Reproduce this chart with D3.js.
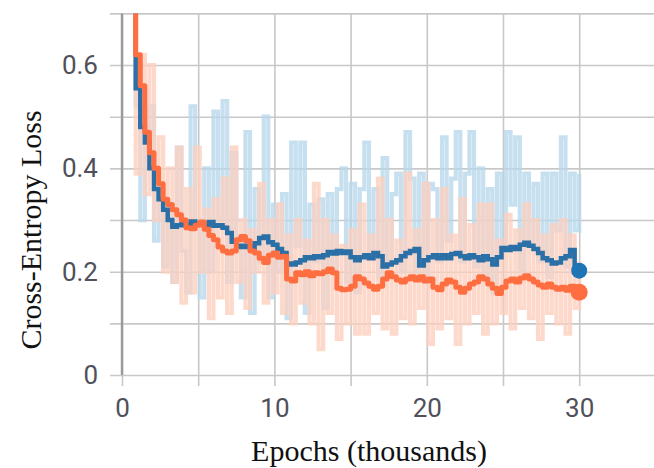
<!DOCTYPE html>
<html>
<head>
<meta charset="utf-8">
<script src="https://cdn.jsdelivr.net/npm/d3@7"></script>
<style>
  html, body { margin: 0; padding: 0; background: #fff; }
  svg { display: block; }
</style>
</head>
<body>
<svg id="chart" width="654" height="468"></svg>
<script>
// ---------------- data ----------------
const epochs = [
  0.6, 0.9, 1.2, 1.5, 1.8, 2.1, 2.4, 2.7, 3.0, 3.3,
  3.6, 3.9, 4.2, 4.5, 4.8, 5.1, 5.4, 5.7, 6.0, 6.3,
  6.6, 6.9, 7.2, 7.5, 7.8, 8.1, 8.4, 8.7, 9.0, 9.3,
  9.6, 9.9, 10.2, 10.5, 10.8, 11.1, 11.4, 11.7, 12.0, 12.3,
  12.6, 12.9, 13.2, 13.5, 13.8, 14.1, 14.4, 14.7, 15.0, 15.3,
  15.6, 15.9, 16.2, 16.5, 16.8, 17.1, 17.4, 17.7, 18.0, 18.3,
  18.6, 18.9, 19.2, 19.5, 19.8, 20.1, 20.4, 20.7, 21.0, 21.3,
  21.6, 21.9, 22.2, 22.5, 22.8, 23.1, 23.4, 23.7, 24.0, 24.3,
  24.6, 24.9, 25.2, 25.5, 25.8, 26.1, 26.4, 26.7, 27.0, 27.3,
  27.6, 27.9, 28.2, 28.5, 28.8, 29.1, 29.4, 29.7, 30.0
];

const blueRaw = [
  0.75, 0.52, 0.30, 0.44, 0.52, 0.26, 0.36, 0.21, 0.32, 0.18,
  0.44, 0.24, 0.16, 0.52, 0.30, 0.15, 0.40, 0.20, 0.51, 0.30,
  0.53, 0.18, 0.43, 0.26, 0.15, 0.47, 0.12, 0.36, 0.22, 0.50,
  0.15, 0.33, 0.20, 0.35, 0.11, 0.45, 0.25, 0.45, 0.12, 0.33,
  0.22, 0.34, 0.13, 0.35, 0.20, 0.36, 0.40, 0.18, 0.37, 0.16,
  0.36, 0.45, 0.24, 0.36, 0.19, 0.42, 0.22, 0.35, 0.39, 0.20,
  0.47, 0.38, 0.20, 0.39, 0.18, 0.37, 0.36, 0.22, 0.46, 0.26,
  0.38, 0.47, 0.22, 0.39, 0.47, 0.21, 0.40, 0.19, 0.36, 0.16,
  0.39, 0.24, 0.47, 0.33, 0.46, 0.20, 0.39, 0.25, 0.37, 0.22,
  0.39, 0.19, 0.39, 0.28, 0.46, 0.21, 0.39, 0.28, 0.39
];

const orangeRaw = [
  0.90, 0.39, 0.62, 0.35, 0.60, 0.30, 0.46, 0.20, 0.40, 0.18,
  0.44, 0.14, 0.36, 0.16, 0.44, 0.20, 0.32, 0.11, 0.34, 0.15,
  0.38, 0.12, 0.44, 0.18, 0.30, 0.13, 0.28, 0.20, 0.37, 0.14,
  0.30, 0.16, 0.33, 0.12, 0.27, 0.10, 0.30, 0.14, 0.26, 0.10,
  0.37, 0.05, 0.30, 0.12, 0.27, 0.07, 0.25, 0.10, 0.28, 0.08,
  0.33, 0.08, 0.27, 0.12, 0.38, 0.09, 0.30, 0.08, 0.26, 0.11,
  0.39, 0.10, 0.28, 0.13, 0.37, 0.06, 0.30, 0.09, 0.36, 0.11,
  0.27, 0.06, 0.34, 0.10, 0.29, 0.12, 0.33, 0.08, 0.33, 0.10,
  0.26, 0.12, 0.31, 0.09, 0.28, 0.13, 0.33, 0.11, 0.30, 0.07,
  0.27, 0.12, 0.29, 0.10, 0.30, 0.08, 0.27, 0.13, 0.22
];

const blueSmooth = [
  0.95, 0.555, 0.48, 0.45, 0.40, 0.36, 0.34, 0.32, 0.30, 0.287,
  0.29, 0.292, 0.289, 0.297, 0.291, 0.293, 0.29, 0.296, 0.289, 0.29,
  0.285, 0.275, 0.258, 0.25, 0.248, 0.25, 0.246, 0.255, 0.265, 0.268,
  0.257, 0.252, 0.244, 0.236, 0.216, 0.214, 0.218, 0.222, 0.228, 0.226,
  0.23, 0.228, 0.232, 0.238, 0.235, 0.24, 0.236, 0.239, 0.228, 0.222,
  0.228, 0.232, 0.226, 0.236, 0.23, 0.21, 0.214, 0.218, 0.222, 0.23,
  0.236, 0.24, 0.244, 0.212, 0.222, 0.228, 0.232, 0.226, 0.232, 0.226,
  0.234, 0.236, 0.23, 0.226, 0.232, 0.228, 0.222, 0.23, 0.224, 0.214,
  0.228, 0.246, 0.242, 0.248, 0.244, 0.252, 0.256, 0.25, 0.244, 0.236,
  0.226, 0.222, 0.216, 0.218, 0.226, 0.23, 0.242, 0.21, 0.202
];

const orangeSmooth = [
  1.0, 0.62, 0.56, 0.47, 0.43, 0.40, 0.37, 0.34, 0.33, 0.32,
  0.31, 0.30, 0.285, 0.283, 0.29, 0.296, 0.282, 0.27, 0.262, 0.248,
  0.24, 0.236, 0.24, 0.262, 0.268, 0.26, 0.24, 0.236, 0.226, 0.218,
  0.232, 0.236, 0.228, 0.23, 0.186, 0.182, 0.198, 0.194, 0.2, 0.192,
  0.198, 0.196, 0.2, 0.205, 0.198, 0.168, 0.165, 0.166, 0.172, 0.19,
  0.186, 0.178, 0.172, 0.166, 0.172, 0.186, 0.198, 0.19, 0.184, 0.18,
  0.186, 0.19, 0.184, 0.19, 0.182, 0.186, 0.17, 0.165, 0.176, 0.184,
  0.18, 0.17, 0.16, 0.168, 0.176, 0.18, 0.19, 0.186, 0.176, 0.168,
  0.158, 0.17, 0.182, 0.186, 0.18, 0.188, 0.192, 0.186, 0.18, 0.174,
  0.17, 0.176, 0.17, 0.166, 0.17, 0.164, 0.172, 0.166, 0.16
];

const yGridValues = [0, 0.1, 0.2, 0.3, 0.4, 0.5, 0.6, 0.7];
const yTickLabels = [0, 0.2, 0.4, 0.6];
const xGridValues = [0, 5, 10, 15, 20, 25, 30, 35];
const xTickLabels = [0, 10, 20, 30];

// ---------------- drawing ----------------
const svg = d3.select("#chart");

const x = d3.scaleLinear().domain([0, 35]).range([122, 655.4]);
const y = d3.scaleLinear().domain([0, 0.7]).range([375, 13.4]);

const gridColor = "#c8c8c8";
const labelColor = "#50505a";

// Y grid + labels
const yAxis = d3.axisLeft(y)
  .tickValues(yGridValues)
  .tickSize(-(654 - 110))
  .tickPadding(12)
  .tickFormat(d => yTickLabels.some(v => Math.abs(v - d) < 1e-9) ? d3.format("")(+d.toFixed(1)) : "");
const gy = svg.append("g").attr("transform", "translate(110,0)").call(yAxis);
gy.select(".domain").remove();
gy.selectAll(".tick line").attr("stroke", gridColor).attr("stroke-width", 1.6);
gy.selectAll(".tick text")
  .attr("font-family", "Roboto, Arial, sans-serif")
  .attr("font-size", 26)
  .attr("fill", labelColor);

// X grid + labels
const xAxis = d3.axisBottom(x)
  .tickValues(xGridValues)
  .tickSize(-(386 - 13.4))
  .tickPadding(13)
  .tickFormat(d => xTickLabels.includes(d) ? String(d) : "");
const gx = svg.append("g").attr("transform", "translate(0,386)").call(xAxis);
gx.select(".domain").remove();
gx.selectAll(".tick line").attr("stroke", gridColor).attr("stroke-width", 1.6);
gx.selectAll(".tick text")
  .attr("font-family", "Roboto, Arial, sans-serif")
  .attr("font-size", 26)
  .attr("fill", labelColor);

// y axis line (darker)
svg.append("line")
  .attr("x1", x(0)).attr("x2", x(0))
  .attr("y1", y(0.7)).attr("y2", y(0))
  .attr("stroke", "#9a9a9a").attr("stroke-width", 2.4);

// clip
svg.append("defs").append("clipPath").attr("id", "plotclip")
  .append("rect")
  .attr("x", x(0) + 1).attr("y", y(0.7))
  .attr("width", 654 - x(0)).attr("height", y(0) - y(0.7));

const plot = svg.append("g").attr("clip-path", "url(#plotclip)");

function series(vals) {
  const n = Math.min(epochs.length, vals.length);
  const out = [];
  for (let i = 0; i < n; i++) out.push([epochs[i], vals[i]]);
  return out;
}

const stepLine = d3.line().x(d => x(d[0])).y(d => y(d[1])).curve(d3.curveStepAfter);

plot.append("path").datum(series(blueRaw))
  .attr("d", stepLine).attr("fill", "none")
  .attr("stroke", "#b9d8ec").attr("stroke-opacity", 0.8)
  .attr("stroke-width", 4.2);

plot.append("path").datum(series(orangeRaw))
  .attr("d", stepLine).attr("fill", "none")
  .attr("stroke", "#fccfbf").attr("stroke-opacity", 0.8)
  .attr("stroke-width", 4.2);

plot.append("path").datum(series(blueSmooth))
  .attr("d", stepLine).attr("fill", "none")
  .attr("stroke", "#2a6fa6").attr("stroke-width", 4.5)
  .attr("stroke-linejoin", "miter");

plot.append("path").datum(series(orangeSmooth))
  .attr("d", stepLine).attr("fill", "none")
  .attr("stroke", "#ff6e40").attr("stroke-width", 5)
  .attr("stroke-linejoin", "round");

// end dots
const lastB = series(blueSmooth).slice(-1)[0];
const lastO = series(orangeSmooth).slice(-1)[0];
svg.append("circle").attr("cx", x(lastB[0])).attr("cy", y(lastB[1]))
  .attr("r", 8).attr("fill", "#1f74b6");
svg.append("circle").attr("cx", x(lastO[0])).attr("cy", y(lastO[1]))
  .attr("r", 8.5).attr("fill", "#ff6e40");

// titles
svg.append("text")
  .attr("x", 369).attr("y", 461)
  .attr("text-anchor", "middle")
  .attr("font-family", "'Liberation Serif', 'Times New Roman', serif")
  .attr("font-size", 30)
  .attr("fill", "#111")
  .text("Epochs (thousands)");

svg.append("text")
  .attr("transform", "translate(41,230) rotate(-90)")
  .attr("text-anchor", "middle")
  .attr("font-family", "'Liberation Serif', 'Times New Roman', serif")
  .attr("font-size", 30)
  .attr("fill", "#111")
  .text("Cross-Entropy Loss");
</script>
</body>
</html>
